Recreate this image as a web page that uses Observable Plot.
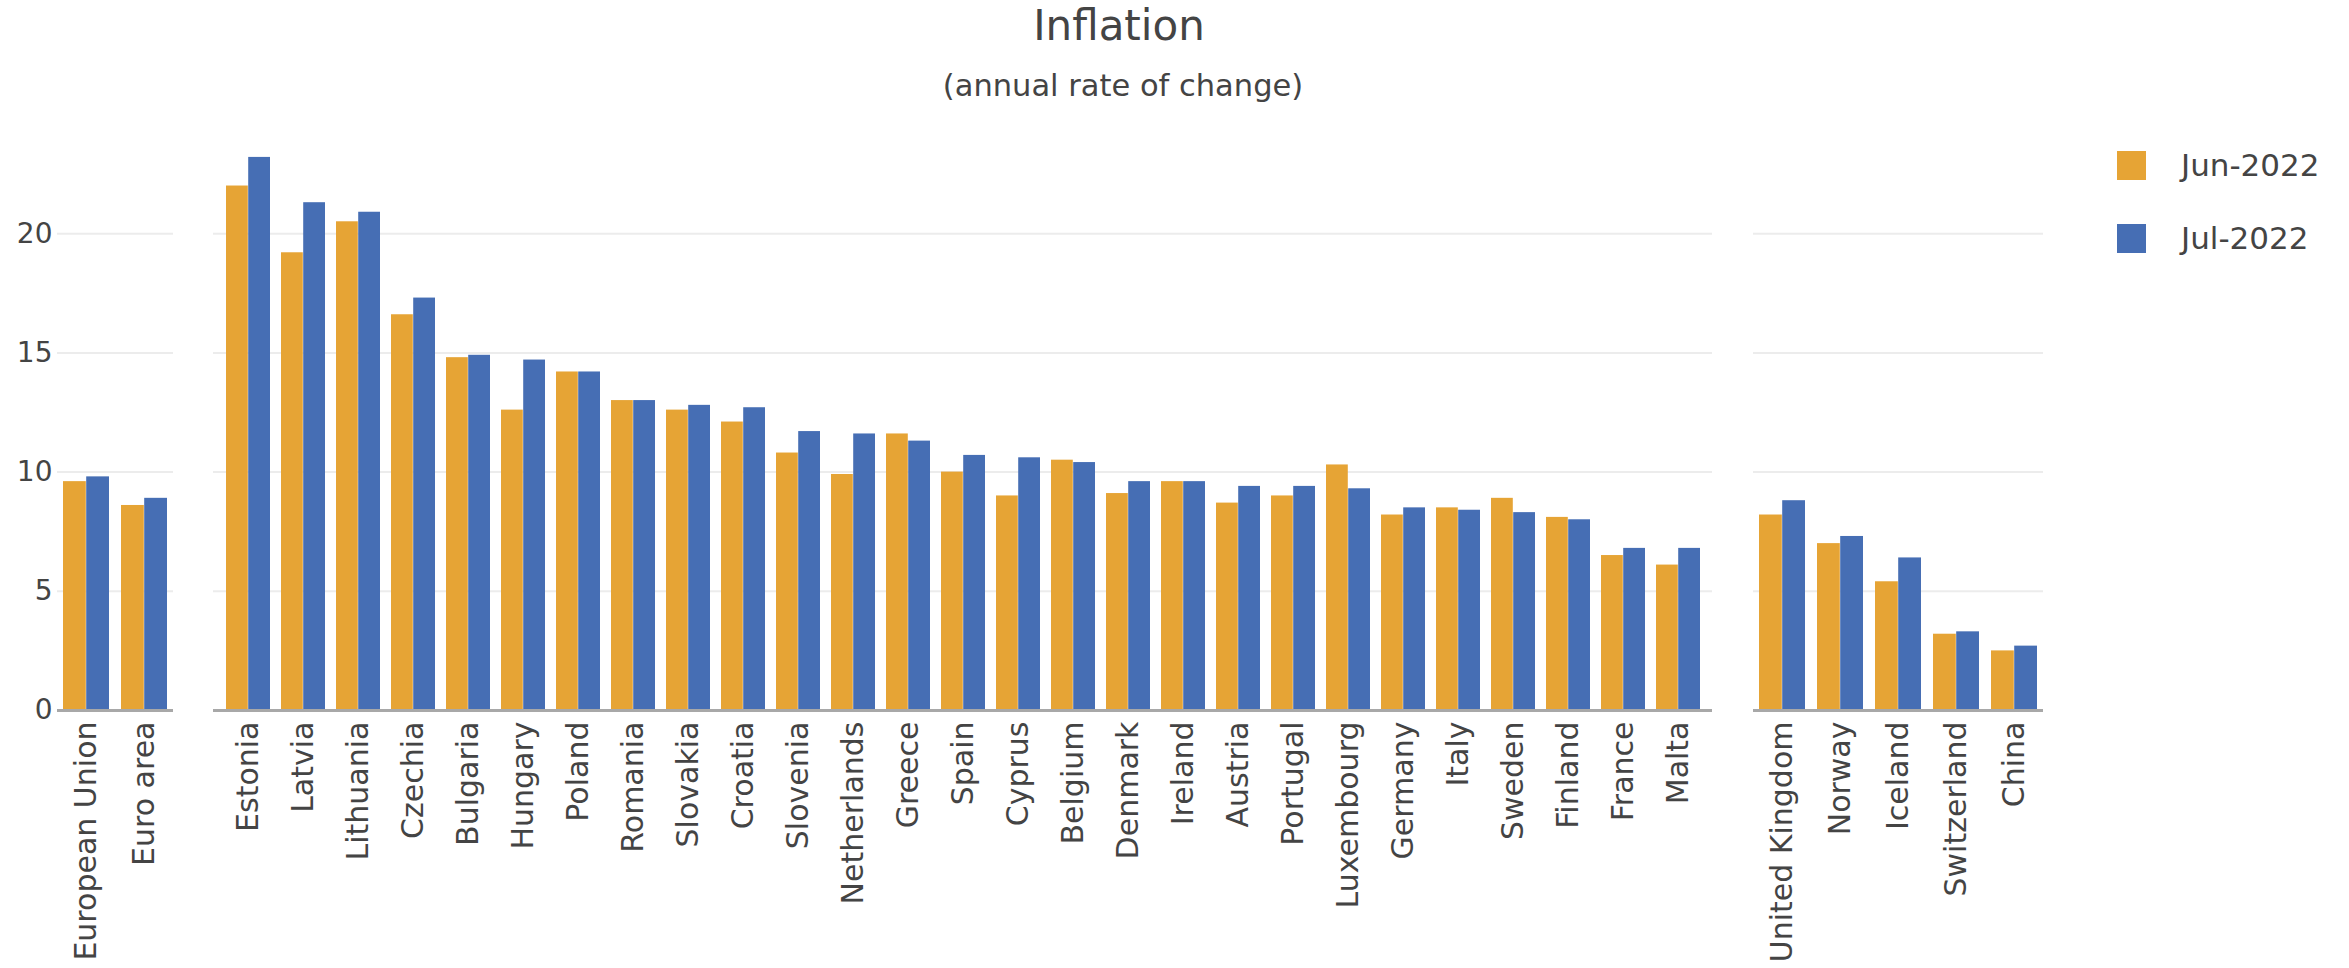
<!DOCTYPE html>
<html>
<head>
<meta charset="utf-8">
<script src="https://cdn.jsdelivr.net/npm/d3@7"></script>
<script src="https://cdn.jsdelivr.net/npm/@observablehq/plot@0.6"></script>
<style>
  html, body { margin: 0; padding: 0; background: #fff; }
  #wrap { position: relative; width: 2349px; height: 968px; overflow: hidden; font-family: "DejaVu Sans", sans-serif; color: #444; }
  .abs { position: absolute; }
  .title { left: 619px; width: 1000px; text-align: center; font-size: 42px; line-height: 1; top: 5px; color: #444; }
  .subtitle { left: 623px; width: 1000px; text-align: center; font-size: 30.5px; line-height: 1; top: 71px; color: #444; }
  .sw { width: 29px; height: 29px; }
  .lt { font-size: 31px; line-height: 1; color: #444; }
</style>
</head>
<body>
<div id="wrap">
  <div class="abs title">Inflation</div>
  <div class="abs subtitle">(annual rate of change)</div>
  <div class="abs sw" style="left:2117px; top:151px; background:#E6A435"></div>
  <div class="abs lt" style="left:2181px; top:150px">Jun-2022</div>
  <div class="abs sw" style="left:2117px; top:224px; background:#466EB4"></div>
  <div class="abs lt" style="left:2181px; top:223px">Jul-2022</div>
</div>
<script>
// ---- data ----
const seriesNames = ["Jun-2022", "Jul-2022"];
const seriesColors = ["#E6A435", "#466EB4"];
const yTicks = [0, 5, 10, 15, 20];
const gridTicks = [5, 10, 15, 20];

const groupAreas = ["European Union", "Euro area"];
const groupJun = [9.6, 8.6];
const groupJul = [9.8, 8.9];

const euCountries = ["Estonia","Latvia","Lithuania","Czechia","Bulgaria","Hungary","Poland","Romania","Slovakia","Croatia","Slovenia","Netherlands","Greece","Spain","Cyprus","Belgium","Denmark","Ireland","Austria","Portugal","Luxembourg","Germany","Italy","Sweden","Finland","France","Malta"];
const euJun = [22.0, 19.2, 20.5, 16.6, 14.8, 12.6, 14.2, 13.0, 12.6, 12.1, 10.8, 9.9, 11.6, 10.0, 9.0, 10.5, 9.1, 9.6, 8.7, 9.0, 10.3, 8.2, 8.5, 8.9, 8.1, 6.5, 6.1];
const euJul = [23.2, 21.3, 20.9, 17.3, 14.9, 14.7, 14.2, 13.0, 12.8, 12.7, 11.7, 11.6, 11.3, 10.7, 10.6, 10.4, 9.6, 9.6, 9.4, 9.4, 9.3, 8.5, 8.4, 8.3, 8.0, 6.8, 6.8];

const otherCountries = ["United Kingdom","Norway","Iceland","Switzerland","China"];
const otherJun = [8.2, 7.0, 5.4, 3.2, 2.5];
const otherJul = [8.8, 7.3, 6.4, 3.3, 2.7];

// ---- layout ----
const H = 868, MT = 14, MB = 258, SVG_TOP = 100;

function panel(countries, jun, jul, left, width, mL, mR, showY) {
  const rows = countries.flatMap((c, i) => [
    {country: c, series: seriesNames[0], value: jun[i]},
    {country: c, series: seriesNames[1], value: jul[i]}
  ]);
  const frameW = width - mL - mR;
  const half = 0.4 * frameW / countries.length;
  const marks = [
    Plot.ruleY(gridTicks, {stroke: "#ececec", strokeWidth: 2}),
    Plot.barY(rows.filter(d => d.series === seriesNames[0]), {x: "country", y: "value", fill: seriesColors[0], insetRight: half}),
    Plot.barY(rows.filter(d => d.series === seriesNames[1]), {x: "country", y: "value", fill: seriesColors[1], insetLeft: half}),
    Plot.ruleY([0], {stroke: "#a8a8a8", strokeWidth: 3}),
    Plot.axisX({tickRotate: -90, tickSize: 0, tickPadding: 11, fontSize: 30, label: null, fill: "#444"})
  ];
  if (showY) marks.push(Plot.axisY({ticks: yTicks, tickSize: 0, tickPadding: 5, fontSize: 28, label: null, fill: "#444"}));
  const chart = Plot.plot({
    width, height: H,
    marginTop: MT, marginBottom: MB, marginLeft: mL, marginRight: mR,
    style: {fontFamily: "DejaVu Sans", color: "#444", background: "transparent"},
    x: {domain: countries, paddingInner: 0.2, paddingOuter: 0.1},
    y: {domain: [0, 25], axis: null},
    marks
  });
  chart.style.position = "absolute";
  chart.style.left = left + "px";
  chart.style.top = SVG_TOP + "px";
  chart.style.maxWidth = "none";
  document.getElementById("wrap").appendChild(chart);
}

panel(groupAreas, groupJun, groupJul, 0, 180, 57, 7, true);
panel(euCountries, euJun, euJul, 206, 1513, 7, 7, false);
panel(otherCountries, otherJun, otherJul, 1746, 304, 7, 7, false);
</script>
</body>
</html>
